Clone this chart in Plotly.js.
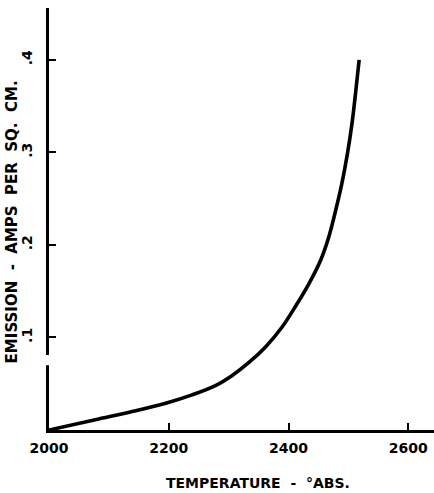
<!DOCTYPE html>
<html><head><meta charset="utf-8">
<script src="https://cdn.plot.ly/plotly-3.0.1.min.js"></script>
<style>html,body{margin:0;padding:0;background:#fff}#c{width:434px;height:493px}</style>
</head><body><div id="c"></div>
<script>
const temperature = [2000, 2083, 2139, 2195, 2239, 2278, 2306, 2334, 2362, 2389, 2412, 2434, 2454, 2467, 2479, 2489, 2498, 2506, 2512, 2518];
const emission    = [0, 0.012, 0.020, 0.029, 0.038, 0.048, 0.059, 0.073, 0.090, 0.111, 0.134, 0.158, 0.184, 0.208, 0.238, 0.266, 0.297, 0.331, 0.364, 0.400];
const xTickVals = [2000, 2200, 2400, 2600];
const xTickText = ['2000', '2200', '2400', '2600'];
const yTickVals = [0.1, 0.2, 0.3, 0.4];
const yTickText = ['.1', '.2', '.3', '.4'];

const font = 'DejaVu Sans, sans-serif';
const sp = '\u00a0';
const trace = {
  x: temperature, y: emission, type: 'scatter', mode: 'lines',
  line: {color: '#000', width: 3.6, shape: 'spline', smoothing: 1}, hoverinfo: 'skip'
};
const layout = {
  width: 434, height: 493,
  margin: {l: 49, r: 0, t: 8, b: 63},
  paper_bgcolor: '#fff', plot_bgcolor: '#fff',
  showlegend: false,
  xaxis: {
    range: [2000, 2643], tickvals: xTickVals, ticktext: xTickText,
    ticks: 'inside', ticklen: 7, tickwidth: 2, tickcolor: '#000',
    showline: true, linecolor: '#000', linewidth: 3, showgrid: false, zeroline: false,
    ticklabelstandoff: 3,
    tickfont: {family: font, size: 14, color: '#000', weight: 'bold'}
  },
  yaxis: {
    range: [0, 0.456], tickvals: yTickVals, ticktext: yTickText,
    ticks: 'inside', ticklen: 7, tickwidth: 2, tickcolor: '#000',
    showline: true, linecolor: '#000', linewidth: 3, showgrid: false, zeroline: false,
    tickangle: -90, ticklabelstandoff: 8,
    tickfont: {family: font, size: 14, color: '#000', weight: 'bold'}
  },
  shapes: [
    {type: 'rect', layer: 'above', xref: 'paper', yref: 'y', x0: -0.012, x1: 0.006, y0: 0.070, y1: 0.081,
     fillcolor: '#fff', line: {width: 0}}
  ],
  annotations: [
    {text: ['EMISSION', '-', 'AMPS', 'PER', 'SQ.', 'CM.'].join(sp + sp), xref: 'paper', yref: 'paper', x: -0.095, y: 0.493,
     xanchor: 'center', yanchor: 'middle', textangle: -90, showarrow: false,
     font: {family: font, size: 15, color: '#000', weight: 'bold'}},
    {text: ['TEMPERATURE', '-', '°ABS.'].join(sp + sp), xref: 'paper', yref: 'paper', x: 0.544, y: -0.126,
     xanchor: 'center', yanchor: 'middle', showarrow: false,
     font: {family: font, size: 14, color: '#000', weight: 'bold'}}
  ]
};
Plotly.newPlot('c', [trace], layout, {displayModeBar: false, staticPlot: true});
</script>
</body></html>
